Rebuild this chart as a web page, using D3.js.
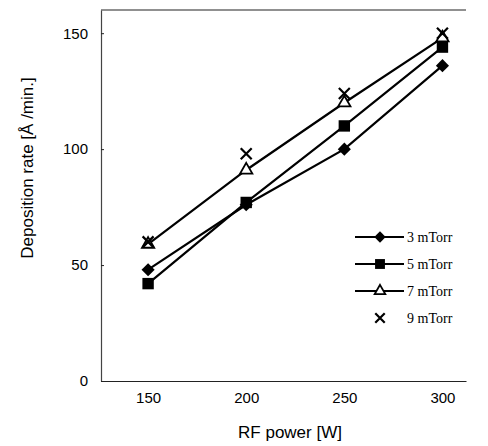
<!DOCTYPE html>
<html><head><meta charset="utf-8">
<script src="https://cdn.jsdelivr.net/npm/d3@7"></script>
<style>body{margin:0;background:#fff}svg{display:block}</style>
</head><body>
<svg id="c" width="488" height="446"></svg>
<script>
const power = [150, 200, 250, 300];
const series = ["3 mTorr", "5 mTorr", "7 mTorr", "9 mTorr"];
const rate3 = [48, 76, 100, 136];
const rate5 = [42, 77, 110, 144];
const rate7 = [59, 91, 120, 148];
const rate9 = [60, 98, 124, 150];
const xTicks = [150, 200, 250, 300];
const yTicks = [0, 50, 100, 150];

const data = [
  {name: series[0], vals: rate3, sym: "diamond", line: true},
  {name: series[1], vals: rate5, sym: "square", line: true},
  {name: series[2], vals: rate7, sym: "triangle", line: true},
  {name: series[3], vals: rate9, sym: "cross", line: false}
];

const svg = d3.select("#c");
const L = 101, R = 466, T = 10, B = 381;
const x = d3.scaleLinear().domain([126, 312]).range([L, R]);
const y = d3.scaleLinear().domain([0, 160]).range([B, T]);
const sans = "Arial, 'Liberation Sans', sans-serif";

svg.append("line").attr("x1", L).attr("x2", R).attr("y1", T).attr("y2", T).attr("stroke", "#222").attr("stroke-width", 1.2);
const xa = svg.append("g").attr("transform", `translate(0,${B})`)
  .call(d3.axisBottom(x).tickValues(xTicks).tickSize(0).tickPadding(11));
xa.select(".domain").attr("stroke", "#222").attr("stroke-width", 1.2);
xa.selectAll("text").attr("font-family", sans).attr("font-size", 15).attr("fill", "#000");
const ya = svg.append("g").attr("transform", `translate(${L},0)`)
  .call(d3.axisLeft(y).tickValues(yTicks).tickSizeInner(-3).tickSizeOuter(0).tickPadding(13));
ya.select(".domain").attr("stroke", "#444").attr("stroke-width", 1.2);
ya.selectAll(".tick line").attr("stroke", "#222");
ya.selectAll("text").attr("font-family", sans).attr("font-size", 15).attr("fill", "#000");

svg.append("text").attr("x", 290).attr("y", 438)
  .attr("text-anchor", "middle").attr("font-family", sans)
  .attr("font-size", 17).text("RF power [W]");
svg.append("text").attr("transform", "translate(33,168) rotate(-90)")
  .attr("text-anchor", "middle").attr("font-family", sans)
  .attr("font-size", 17).text("Deposition rate [Å /min.]");

const line = d3.line().x((d, i) => x(power[i])).y(d => y(d));

function marker(g, sym, k) {
  if (sym === "diamond") g.append("path").attr("d", d3.symbol(d3.symbolDiamond2, 110 * k)()).attr("fill", "#000");
  else if (sym === "square") g.append("path").attr("d", d3.symbol(d3.symbolSquare, 130 * k)()).attr("fill", "#000");
  else if (sym === "triangle") g.append("path").attr("d", d3.symbol(d3.symbolTriangle, 65 * k)()).attr("fill", "#fff").attr("stroke", "#000").attr("stroke-width", 1.8);
  else g.append("path").attr("d", d3.symbol(d3.symbolTimes, 80 * k)()).attr("fill", "none").attr("stroke", "#000").attr("stroke-width", 2.2);
}

data.forEach(s => {
  if (s.line) svg.append("path").attr("d", line(s.vals)).attr("fill", "none").attr("stroke", "#000").attr("stroke-width", 2.2);
});
data.forEach(s => {
  s.vals.forEach((v, i) => {
    const g = svg.append("g").attr("transform", `translate(${x(power[i])},${y(v)})`);
    marker(g, s.sym, 1);
  });
});

const lg = svg.append("g");
data.forEach((s, i) => {
  const yy = 237 + i * 27;
  const g = lg.append("g").attr("transform", `translate(0,${yy})`);
  if (s.line) g.append("line").attr("x1", 355).attr("x2", 404).attr("y1", 0).attr("y2", 0).attr("stroke", "#000").attr("stroke-width", 2);
  const m = g.append("g").attr("transform", "translate(380,0)");
  marker(m, s.sym, 0.75);
  g.append("text").attr("x", 407).attr("y", 5).attr("font-family", "'Liberation Serif', 'Times New Roman', serif")
    .attr("font-size", 14).text(s.name);
});
</script>
</body></html>
